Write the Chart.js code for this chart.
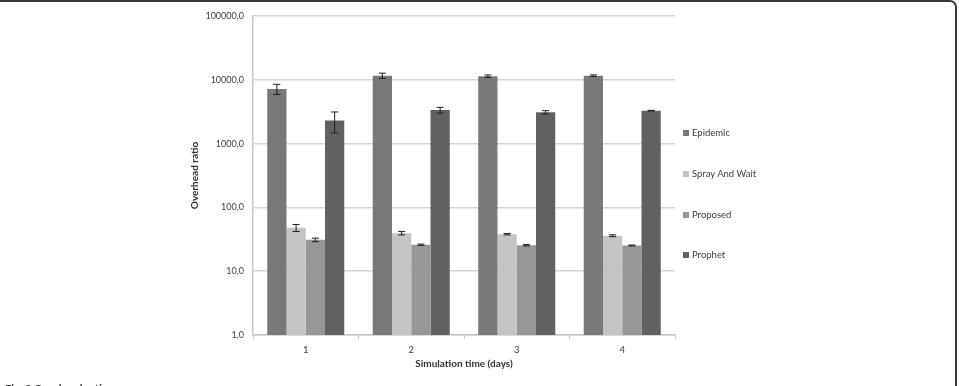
<!DOCTYPE html>
<html>
<head>
<meta charset="utf-8">
<script src="https://cdn.jsdelivr.net/npm/chart.js@4/dist/chart.umd.min.js"></script>
<style>
  html, body { margin: 0; padding: 0; background: #fff; overflow: hidden; }
  #wrap { position: relative; width: 959px; height: 386px; }
  #frame {
    position: absolute; left: -20px; top: 0; width: 977px; height: 440px;
    border: 2px solid #3a3a3a; border-radius: 7px; box-sizing: border-box;
  }
  #legend { position: absolute; left: 683px; top: 0; font-family: Lato, sans-serif; font-size: 9.5px; color: #404040; }
  .item { position: absolute; white-space: nowrap; line-height: 10px; }
  .box { display: inline-block; width: 6px; height: 6px; margin-right: 3px; vertical-align: 0px; }
  #caption { position: absolute; left: 5px; top: 382px; font-family: Lato, sans-serif; font-size: 11px; font-weight: bold; color: #333; }
</style>
</head>
<body>
<div id="wrap">
  <canvas id="c" width="959" height="386"></canvas>
  <div id="frame"></div>
  <div id="legend"></div>
  <div id="caption">Fig. 3 Overhead ratio</div>
</div>
<script>
// categories / series
const days = ["1", "2", "3", "4"];
const seriesNames = ["Epidemic", "Spray And Wait", "Proposed", "Prophet"];
const seriesColors = ["#787878", "#c4c4c4", "#979797", "#616161"];

const epidemic = [7200, 11600, 11400, 11600];
const sprayAndWait = [48, 39.5, 38, 36];
const proposed = [31, 26, 25.5, 25.3];
const prophet = [2300, 3350, 3100, 3280];

// +/- error of each bar
const epidemicErr = [1300, 1100, 500, 350];
const sprayAndWaitErr = [6, 2.5, 1, 1.2];
const proposedErr = [2, 0.6, 0.6, 0.4];
const prophetErr = [830, 350, 180, 40];

const yTicks = [1, 10, 100, 1000, 10000, 100000];

const values = [epidemic, sprayAndWait, proposed, prophet];
const errors = [epidemicErr, sprayAndWaitErr, proposedErr, prophetErr];

const errorBars = {
    id: "errorBars",
    afterDatasetsDraw(chart) {
        const ctx = chart.ctx;
        const y = chart.scales.y;
        ctx.save();
        ctx.strokeStyle = "#1e1e1e";
        ctx.lineWidth = 1;
        chart.data.datasets.forEach((ds, i) => {
            const meta = chart.getDatasetMeta(i);
            meta.data.forEach((bar, j) => {
                const v = ds.data[j];
                const e = errors[i][j];
                const top = y.getPixelForValue(v + e);
                const bot = y.getPixelForValue(v - e);
                ctx.beginPath();
                ctx.moveTo(bar.x, top);
                ctx.lineTo(bar.x, bot);
                ctx.moveTo(bar.x - 3.5, top);
                ctx.lineTo(bar.x + 3.5, top);
                ctx.moveTo(bar.x - 3.5, bot);
                ctx.lineTo(bar.x + 3.5, bot);
                ctx.stroke();
            });
        });
        ctx.restore();
    },
};

Chart.defaults.font.family = "Lato, sans-serif";
Chart.defaults.color = "#404040";

new Chart(document.getElementById("c"), {
    type: "bar",
    data: {
        labels: days,
        datasets: seriesNames.map((name, i) => ({
            label: name,
            data: values[i],
            backgroundColor: seriesColors[i],
            borderWidth: 0,
        })),
    },
    options: {
        responsive: false,
        animation: false,
        layout: {padding: {left: 185, right: 284, top: 16, bottom: 16}},
        datasets: {bar: {barPercentage: 1, categoryPercentage: 0.73}},
        plugins: {legend: {display: false}, tooltip: {enabled: false}},
        scales: {
            x: {
                grid: {display: true, drawOnChartArea: false, offset: true, tickLength: 4, color: "#c8c8c8", lineWidth: 1},
                border: {color: "#c8c8c8", width: 1.5},
                ticks: {font: {size: 9.5}, padding: 5, color: "#404040"},
                title: {display: true, text: "Simulation time (days)", font: {size: 10, weight: "bold"}, color: "#333", padding: 0},
                afterFit(s) { s.height = 35; },
            },
            y: {
                type: "logarithmic",
                min: 1,
                max: 100000,
                grid: {color: "#d4d4d4", lineWidth: 1.5, drawTicks: false},
                border: {color: "#c8c8c8", width: 1.5},
                afterBuildTicks(s) { s.ticks = yTicks.map((v) => ({value: v})); },
                ticks: {
                    font: {size: 9},
                    padding: 9,
                    color: "#404040",
                    callback: (v) => v.toFixed(1).replace(".", ","),
                },
                title: {display: true, text: "Overhead ratio", font: {size: 10, weight: "bold"}, color: "#333", padding: 4},
                afterFit(s) { s.width = 68; },
            },
        },
    },
    plugins: [errorBars],
});

// legend
const legendTops = [133, 174, 215, 255];
const legend = document.getElementById("legend");
seriesNames.forEach((name, i) => {
    const d = document.createElement("div");
    d.className = "item";
    d.style.top = (legendTops[i] - 5) + "px";
    d.innerHTML = '<span class="box" style="background:' + seriesColors[i] + '"></span>' + name;
    legend.appendChild(d);
});
</script>
</body>
</html>
